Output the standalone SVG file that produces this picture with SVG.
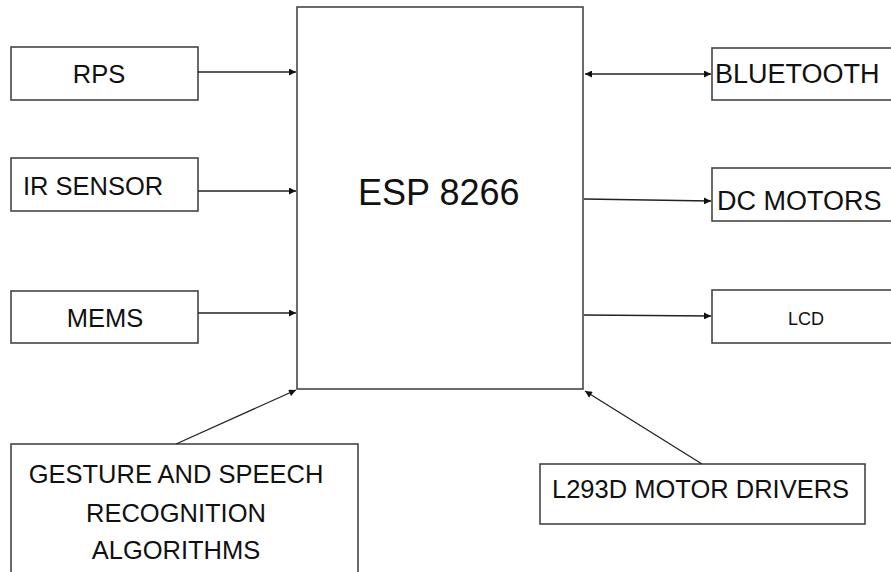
<svg xmlns="http://www.w3.org/2000/svg" width="891" height="572" viewBox="0 0 891 572">
<defs>
<style>
.box{fill:#fff;stroke:#454545;stroke-width:1.6}
.t{font-family:"Liberation Sans",Arial,sans-serif;font-size:25.5px;fill:#111}
.c{stroke:#222;stroke-width:1.3;fill:none}
</style>
<marker id="ah" viewBox="0 0 10 10" refX="10" refY="5" markerWidth="8" markerHeight="7" markerUnits="userSpaceOnUse" orient="auto-start-reverse">
<path d="M0,0 L10,5 L0,10 z" fill="#111"/>
</marker>
</defs>
<rect width="891" height="572" fill="#fff"/>
<g id="esp8266"><rect class="box" x="297" y="7" width="286" height="382"/><text class="t" x="358" y="205" style="font-size:36px">ESP 8266</text></g>
<g id="rps"><rect class="box" x="11" y="47" width="187" height="53"/><text class="t" x="99" y="83" text-anchor="middle">RPS</text></g>
<g id="ir"><rect class="box" x="11" y="158" width="187" height="53"/><text class="t" x="23" y="195">IR SENSOR</text></g>
<g id="mems"><rect class="box" x="11" y="291" width="187" height="52"/><text class="t" x="105" y="327" text-anchor="middle">MEMS</text></g>
<g id="gesture"><rect class="box" x="11" y="444" width="347" height="135"/><text class="t" text-anchor="middle"><tspan x="176" y="483">GESTURE AND SPEECH</tspan><tspan x="176" y="522">RECOGNITION</tspan><tspan x="176" y="559">ALGORITHMS</tspan></text></g>
<g id="bluetooth"><rect class="box" x="712" y="48" width="190" height="52"/><text class="t" x="715" y="83" style="font-size:27px">BLUETOOTH</text></g>
<g id="dcmotors"><rect class="box" x="712" y="168" width="190" height="53"/><text class="t" x="717" y="210" style="font-size:27px">DC MOTORS</text></g>
<g id="lcd"><rect class="box" x="712" y="290" width="190" height="53"/><text class="t" x="806" y="325" text-anchor="middle" style="font-size:18px">LCD</text></g>
<g id="l293d"><rect class="box" x="540" y="464" width="325" height="60"/><text class="t" x="552" y="498">L293D MOTOR DRIVERS</text></g>
<g id="connectors">
<line class="c" x1="198" y1="72" x2="296" y2="72" marker-end="url(#ah)"/>
<line class="c" x1="198" y1="191" x2="296" y2="191" marker-end="url(#ah)"/>
<line class="c" x1="198" y1="313" x2="296" y2="313" marker-end="url(#ah)"/>
<line class="c" x1="585" y1="74" x2="711" y2="74" marker-start="url(#ah)" marker-end="url(#ah)"/>
<line class="c" x1="584" y1="199" x2="711" y2="201" marker-end="url(#ah)"/>
<line class="c" x1="584" y1="315" x2="711" y2="316" marker-end="url(#ah)"/>
<line class="c" x1="176" y1="444" x2="296" y2="390" marker-end="url(#ah)"/>
<line class="c" x1="702" y1="464" x2="585" y2="391" marker-end="url(#ah)"/>
</g>
</svg>
